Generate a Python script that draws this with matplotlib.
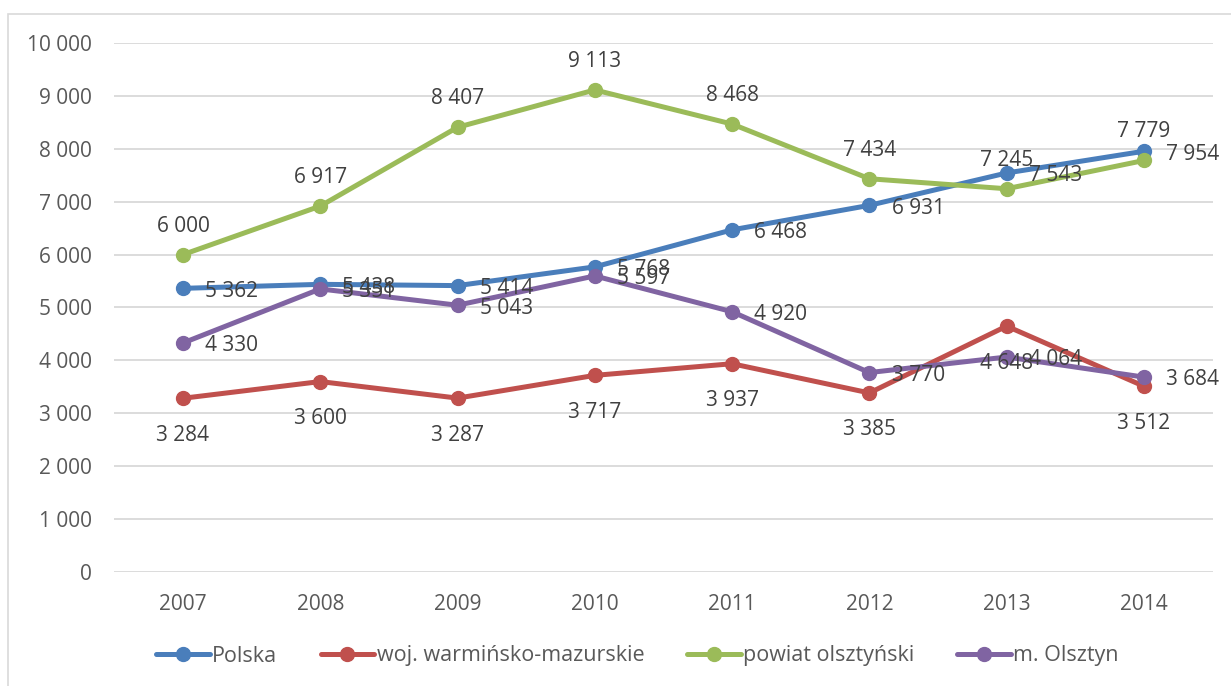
import matplotlib.pyplot as plt
from matplotlib.patches import Rectangle

# data
years = ["2007", "2008", "2009", "2010", "2011", "2012", "2013", "2014"]
polska = [5362, 5438, 5414, 5768, 6468, 6931, 7543, 7954]
woj = [3284, 3600, 3287, 3717, 3937, 3385, 4648, 3512]
powiat = [6000, 6917, 8407, 9113, 8468, 7434, 7245, 7779]
olsztyn = [4330, 5351, 5043, 5597, 4920, 3770, 4064, 3684]

names = ["Polska", "woj. warmińsko-mazurskie", "powiat olsztyński", "m. Olsztyn"]
colors = ["#4a7ebb", "#c0504d", "#9bbb59", "#8064a2"]
# where the data label sits relative to the point
label_pos = ["right", "below", "above", "right"]

yticks = list(range(0, 10001, 1000))


def fmt(v):
    return f"{v:,}".replace(",", " ")


plt.rcParams["font.family"] = ["Open Sans", "DejaVu Sans"]

fig = plt.figure(figsize=(12.31, 6.86), dpi=100)
ax = fig.add_axes([0.0929, 0.1662, 0.8921, 0.7711])

# thin grey frame round the chart
fig.patches.append(Rectangle((8 / 1231, -0.1), 1.2, 1 - 14 / 686 + 0.1,
                             transform=fig.transFigure, fill=False,
                             edgecolor="#d9d9d9", linewidth=1.2))

x = list(range(len(years)))
series = [polska, woj, powiat, olsztyn]
for vals, name, col, pos in zip(series, names, colors, label_pos):
    ax.plot(x, vals, "-o", color=col, linewidth=3.6, markersize=10,
            label=name, solid_capstyle="round")
    for xi, v in zip(x, vals):
        if pos == "right":
            ax.annotate(fmt(v), (xi, v), xytext=(16, -2), textcoords="offset points",
                        ha="left", va="center", fontsize=15, color="#404040")
        elif pos == "above":
            ax.annotate(fmt(v), (xi, v), xytext=(0, 13), textcoords="offset points",
                        ha="center", va="bottom", fontsize=15, color="#404040")
        else:
            ax.annotate(fmt(v), (xi, v), xytext=(0, -19), textcoords="offset points",
                        ha="center", va="top", fontsize=15, color="#404040")

ax.set_xlim(-0.5, len(years) - 0.5)
ax.set_ylim(0, 10000)
ax.set_yticks(yticks)
ax.set_yticklabels([fmt(t) for t in yticks])
ax.set_xticks(x)
ax.set_xticklabels(years)
ax.tick_params(axis="both", length=0, labelsize=15, labelcolor="#595959")
ax.tick_params(axis="y", pad=16)
ax.tick_params(axis="x", pad=16)
ax.grid(axis="y", color="#d9d9d9", linewidth=1.3)
ax.set_axisbelow(True)
for s in ax.spines.values():
    s.set_visible(False)

fig.legend(loc="center", bbox_to_anchor=(0.518, 1 - 656 / 686), ncol=4,
           frameon=False, fontsize=15.5, handlelength=2.5, handletextpad=0.1,
           columnspacing=2.0, labelcolor="#595959")

fig.savefig("out.png", dpi=100)
